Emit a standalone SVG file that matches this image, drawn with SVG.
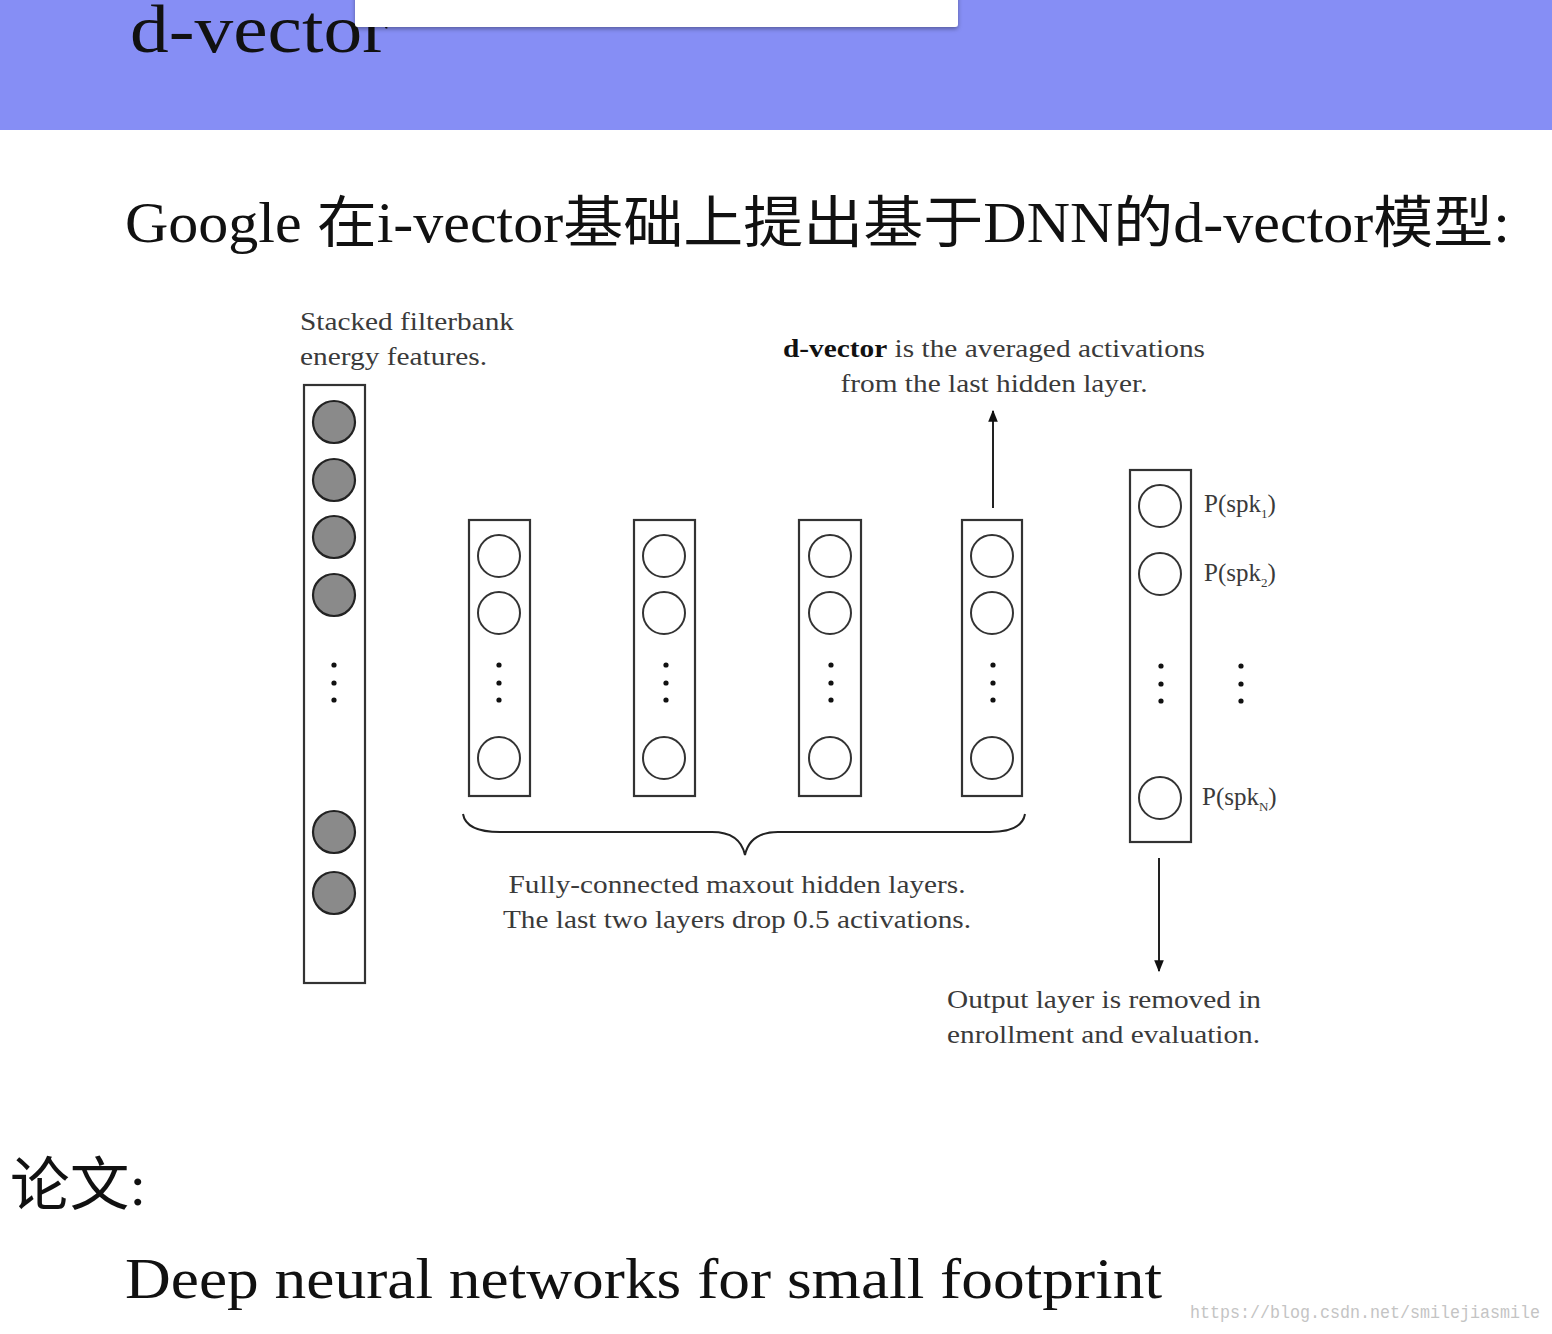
<svg xmlns="http://www.w3.org/2000/svg" width="1552" height="1334" viewBox="0 0 1552 1334">
<defs>
<style>
.serif{font-family:"Liberation Serif","Noto Sans CJK SC",serif;}
.head{fill:#111;}
.lbl{font-family:"Liberation Serif",serif;font-size:25px;fill:#3a3a3a;}
.box{fill:#fff;stroke:#333;stroke-width:2.2;}
.in{fill:#8a8a8a;stroke:#222;stroke-width:2.2;}
.hid{fill:#fff;stroke:#333;stroke-width:2;}
.dot{fill:#111;}
.conn{stroke:#222;stroke-width:2;fill:none;}
</style>
<marker id="ah" viewBox="0 0 10 10" refX="9" refY="5" markerWidth="6" markerHeight="6" orient="auto-start-reverse">
<path d="M0,1 L10,5 L0,9 z" fill="#111"/>
</marker>
<filter id="sh" x="-5%" y="-50%" width="110%" height="200%">
<feDropShadow dx="0" dy="2" stdDeviation="2" flood-color="#000" flood-opacity="0.35"/>
</filter>
</defs>
<rect width="1552" height="1334" fill="#fff"/>
<rect x="0" y="0" width="1552" height="130" fill="#868ef5"/>
<text class="serif head" x="130" y="52" font-size="68" textLength="258" lengthAdjust="spacingAndGlyphs">d-vector</text>
<rect x="355" y="-10" width="603" height="37" rx="3" fill="#fff" filter="url(#sh)"/>

<text class="serif head" x="125" y="242" font-size="56" textLength="1385" lengthAdjust="spacingAndGlyphs">Google 在i-vector基础上提出基于DNN的d-vector模型:</text>

<g id="input-label">
<text class="lbl" x="300" y="330" textLength="214" lengthAdjust="spacingAndGlyphs">Stacked filterbank</text>
<text class="lbl" x="300" y="365" textLength="187" lengthAdjust="spacingAndGlyphs">energy features.</text>
</g>

<g id="input-layer">
<rect class="box" x="304" y="385" width="61" height="598"/>
<circle class="in" cx="334" cy="422" r="21"/>
<circle class="in" cx="334" cy="480" r="21"/>
<circle class="in" cx="334" cy="537" r="21"/>
<circle class="in" cx="334" cy="595" r="21"/>
<circle class="dot" cx="334" cy="665" r="2.6"/>
<circle class="dot" cx="334" cy="683" r="2.6"/>
<circle class="dot" cx="334" cy="700" r="2.6"/>
<circle class="in" cx="334" cy="832" r="21"/>
<circle class="in" cx="334" cy="893" r="21"/>
</g>

<g id="hidden-1">
<rect class="box" x="469" y="520" width="61" height="276"/>
<circle class="hid" cx="499" cy="556" r="21"/>
<circle class="hid" cx="499" cy="613" r="21"/>
<circle class="dot" cx="499" cy="665" r="2.6"/>
<circle class="dot" cx="499" cy="683" r="2.6"/>
<circle class="dot" cx="499" cy="700" r="2.6"/>
<circle class="hid" cx="499" cy="758" r="21"/>
</g>
<g id="hidden-2">
<rect class="box" x="634" y="520" width="61" height="276"/>
<circle class="hid" cx="664" cy="556" r="21"/>
<circle class="hid" cx="664" cy="613" r="21"/>
<circle class="dot" cx="666" cy="665" r="2.6"/>
<circle class="dot" cx="666" cy="683" r="2.6"/>
<circle class="dot" cx="666" cy="700" r="2.6"/>
<circle class="hid" cx="664" cy="758" r="21"/>
</g>
<g id="hidden-3">
<rect class="box" x="799" y="520" width="62" height="276"/>
<circle class="hid" cx="830" cy="556" r="21"/>
<circle class="hid" cx="830" cy="613" r="21"/>
<circle class="dot" cx="831" cy="665" r="2.6"/>
<circle class="dot" cx="831" cy="683" r="2.6"/>
<circle class="dot" cx="831" cy="700" r="2.6"/>
<circle class="hid" cx="830" cy="758" r="21"/>
</g>
<g id="hidden-4">
<rect class="box" x="962" y="520" width="60" height="276"/>
<circle class="hid" cx="992" cy="556" r="21"/>
<circle class="hid" cx="992" cy="613" r="21"/>
<circle class="dot" cx="993" cy="665" r="2.6"/>
<circle class="dot" cx="993" cy="683" r="2.6"/>
<circle class="dot" cx="993" cy="700" r="2.6"/>
<circle class="hid" cx="992" cy="758" r="21"/>
</g>

<g id="output-layer">
<rect class="box" x="1130" y="470" width="61" height="372"/>
<circle class="hid" cx="1160" cy="506" r="21"/>
<circle class="hid" cx="1160" cy="574" r="21"/>
<circle class="dot" cx="1161" cy="666" r="2.6"/>
<circle class="dot" cx="1161" cy="684" r="2.6"/>
<circle class="dot" cx="1161" cy="701" r="2.6"/>
<circle class="hid" cx="1160" cy="798" r="21"/>
<text class="lbl" x="1204" y="512" font-size="23">P(spk<tspan font-size="13" dy="6">1</tspan><tspan dy="-6">)</tspan></text>
<text class="lbl" x="1204" y="581" font-size="23">P(spk<tspan font-size="13" dy="6">2</tspan><tspan dy="-6">)</tspan></text>
<circle class="dot" cx="1241" cy="666" r="2.6"/>
<circle class="dot" cx="1241" cy="684" r="2.6"/>
<circle class="dot" cx="1241" cy="701" r="2.6"/>
<text class="lbl" x="1202" y="805" font-size="23">P(spk<tspan font-size="13" dy="6">N</tspan><tspan dy="-6">)</tspan></text>
</g>

<g id="connectors">
<line class="conn" x1="993" y1="508" x2="993" y2="411" marker-end="url(#ah)"/>
<line class="conn" x1="1159" y1="858" x2="1159" y2="971" marker-end="url(#ah)"/>
<path class="conn" d="M463,814 Q466,832 500,832 L712,832 Q740,832 745,855 Q750,832 778,832 L990,832 Q1022,832 1025,814"/>
</g>

<g id="dvector-label">
<text class="lbl" x="994" y="357" text-anchor="middle" textLength="422" lengthAdjust="spacingAndGlyphs"><tspan font-weight="bold" fill="#111">d-vector</tspan> is the averaged activations</text>
<text class="lbl" x="994" y="392" text-anchor="middle" textLength="307" lengthAdjust="spacingAndGlyphs">from the last hidden layer.</text>
</g>

<g id="hidden-label">
<text class="lbl" x="737" y="893" text-anchor="middle" textLength="457" lengthAdjust="spacingAndGlyphs">Fully-connected maxout hidden layers.</text>
<text class="lbl" x="737" y="928" text-anchor="middle" textLength="468" lengthAdjust="spacingAndGlyphs">The last two layers drop 0.5 activations.</text>
</g>

<g id="output-label">
<text class="lbl" x="947" y="1008" textLength="314" lengthAdjust="spacingAndGlyphs">Output layer is removed in</text>
<text class="lbl" x="947" y="1043" textLength="313" lengthAdjust="spacingAndGlyphs">enrollment and evaluation.</text>
</g>

<text class="serif head" x="10" y="1205" font-size="58" textLength="136" lengthAdjust="spacingAndGlyphs">论文:</text>
<text class="serif head" x="125" y="1298" font-size="56" textLength="1037" lengthAdjust="spacingAndGlyphs">Deep neural networks for small footprint</text>
<text x="1190" y="1318" font-family="'Liberation Mono',monospace" font-size="18" fill="#c4c4c4" textLength="350" lengthAdjust="spacingAndGlyphs">https://blog.csdn.net/smilejiasmile</text>
</svg>
